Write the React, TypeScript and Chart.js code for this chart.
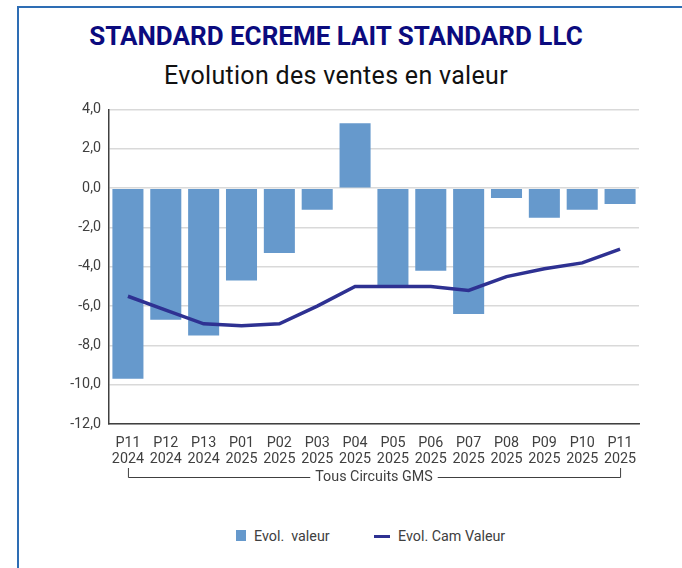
import React, { useEffect, useRef } from "react";
import { Chart, registerables } from "chart.js";

Chart.register(...registerables);

const periods = ["P11", "P12", "P13", "P01", "P02", "P03", "P04", "P05", "P06", "P07", "P08", "P09", "P10", "P11"];
const years = ["2024", "2024", "2024", "2025", "2025", "2025", "2025", "2025", "2025", "2025", "2025", "2025", "2025", "2025"];
const evolValeur = [-9.7, -6.7, -7.5, -4.7, -3.3, -1.1, 3.3, -5.0, -4.2, -6.4, -0.5, -1.5, -1.1, -0.8];
const evolCamValeur = [-5.5, -6.2, -6.9, -7.0, -6.9, -6.0, -5.0, -5.0, -5.0, -5.2, -4.5, -4.1, -3.8, -3.1];
const groupLabel = "Tous Circuits GMS";
const title = "STANDARD ECREME LAIT STANDARD LLC";
const subtitle = "Evolution des ventes en valeur";
const seriesNames = ["Evol.  valeur", "Evol. Cam Valeur"];

const BAR_COLOR = "#6699cc";
const LINE_COLOR = "#2e3192";
const TEXT_COLOR = "#404040";
const FONT = "Roboto, 'Noto Sans', sans-serif";

const bracketPlugin = {
  id: "groupBracket",
  afterDraw(chart: any) {
    const ctx = chart.ctx;
    const x = chart.scales.x;
    const n = periods.length;
    const x0 = x.getPixelForValue(0);
    const x1 = x.getPixelForValue(n - 1);
    const yLine = chart.chartArea.bottom + 53;
    const yTop = yLine - 9;
    ctx.save();
    ctx.font = `14.3px ${FONT}`;
    const tw = ctx.measureText(groupLabel).width;
    const cx = (x0 + x1) / 2;
    ctx.strokeStyle = "#404040";
    ctx.lineWidth = 1;
    ctx.beginPath();
    ctx.moveTo(x0 + 0.5, yTop);
    ctx.lineTo(x0 + 0.5, yLine + 0.5);
    ctx.lineTo(cx - tw / 2 - 5, yLine + 0.5);
    ctx.moveTo(cx + tw / 2 + 5, yLine + 0.5);
    ctx.lineTo(x1 + 0.5, yLine + 0.5);
    ctx.lineTo(x1 + 0.5, yTop);
    ctx.stroke();
    ctx.fillStyle = TEXT_COLOR;
    ctx.textAlign = "center";
    ctx.textBaseline = "middle";
    ctx.fillText(groupLabel, cx, yLine);
    ctx.restore();
  },
};

function ChartBox() {
  const ref = useRef<HTMLCanvasElement | null>(null);
  useEffect(() => {
    if (!ref.current) return;
    const labels = periods.map((p, i) => [p, years[i]]);
    const chart = new Chart(ref.current, {
      type: "bar",
      data: {
        labels,
        datasets: [
          {
            type: "line",
            label: seriesNames[1],
            data: evolCamValeur,
            borderColor: LINE_COLOR,
            backgroundColor: LINE_COLOR,
            borderWidth: 3.5,
            pointRadius: 0,
            tension: 0,
            order: 0,
          } as any,
          {
            type: "bar",
            label: seriesNames[0],
            data: evolValeur,
            backgroundColor: BAR_COLOR,
            barPercentage: 0.82,
            categoryPercentage: 1,
            order: 1,
          },
        ],
      },
      options: {
        animation: false,
        responsive: true,
        maintainAspectRatio: false,
        layout: { padding: { top: 11, right: 11, bottom: 0, left: 0 } },
        plugins: { legend: { display: false }, tooltip: { enabled: false } },
        scales: {
          x: {
            grid: { display: false },
            border: { display: true, color: "#404040", width: 1.5 },
            ticks: {
              color: TEXT_COLOR,
              font: { family: FONT, size: 14.3, lineHeight: 1.15 },
              padding: 3,
              maxRotation: 0,
              autoSkip: false,
            },
            afterFit: (s: any) => {
              s.height = 70;
            },
          },
          y: {
            min: -12,
            max: 4,
            ticks: {
              stepSize: 2,
              color: TEXT_COLOR,
              font: { family: FONT, size: 14.3 },
              padding: 8,
              callback: (v: any) => Number(v).toFixed(1).replace(".", ","),
            },
            grid: { color: "#d9d9d9", lineWidth: 1.5, drawTicks: false },
            border: { display: true, color: "#404040", width: 1.5 },
            afterFit: (s: any) => {
              s.width = 59;
            },
          },
        },
      },
      plugins: [bracketPlugin],
    });
    return () => chart.destroy();
  }, []);
  return (
    <div style={{ position: "absolute", left: 50, top: 93, width: 600, height: 401 }}>
      <canvas ref={ref} />
    </div>
  );
}

export default function App() {
  return (
    <div style={{ position: "fixed", left: 0, top: 0, width: 682, height: 568, background: "#fff", overflow: "hidden", fontFamily: FONT }}>
      <div
        style={{
          position: "absolute",
          left: 17,
          top: 6,
          right: 0,
          bottom: 0,
          borderTop: "2px solid #2e6db4",
          borderLeft: "2px solid #2e6db4",
        }}
      />
      <div
        style={{
          position: "absolute",
          left: 0,
          width: 672,
          top: 19,
          textAlign: "center",
          fontWeight: 700,
          fontSize: 26,
          color: "#0b0b7e",
          lineHeight: "34px",
        }}
      >
        {title}
      </div>
      <div
        style={{
          position: "absolute",
          left: 0,
          width: 672,
          top: 60,
          textAlign: "center",
          fontSize: 25,
          letterSpacing: 0.3,
          color: "#111",
          lineHeight: "32px",
        }}
      >
        {subtitle}
      </div>
      <ChartBox />
      <div style={{ position: "absolute", left: 236, top: 530, width: 10, height: 11, background: BAR_COLOR }} />
      <div style={{ position: "absolute", left: 254, top: 526, fontSize: 14.3, color: TEXT_COLOR, lineHeight: "20px", whiteSpace: "pre" }}>
        {seriesNames[0]}
      </div>
      <div style={{ position: "absolute", left: 374, top: 535, width: 16, height: 3, background: LINE_COLOR }} />
      <div style={{ position: "absolute", left: 398, top: 526, fontSize: 14.3, color: TEXT_COLOR, lineHeight: "20px", whiteSpace: "pre" }}>
        {seriesNames[1]}
      </div>
    </div>
  );
}
